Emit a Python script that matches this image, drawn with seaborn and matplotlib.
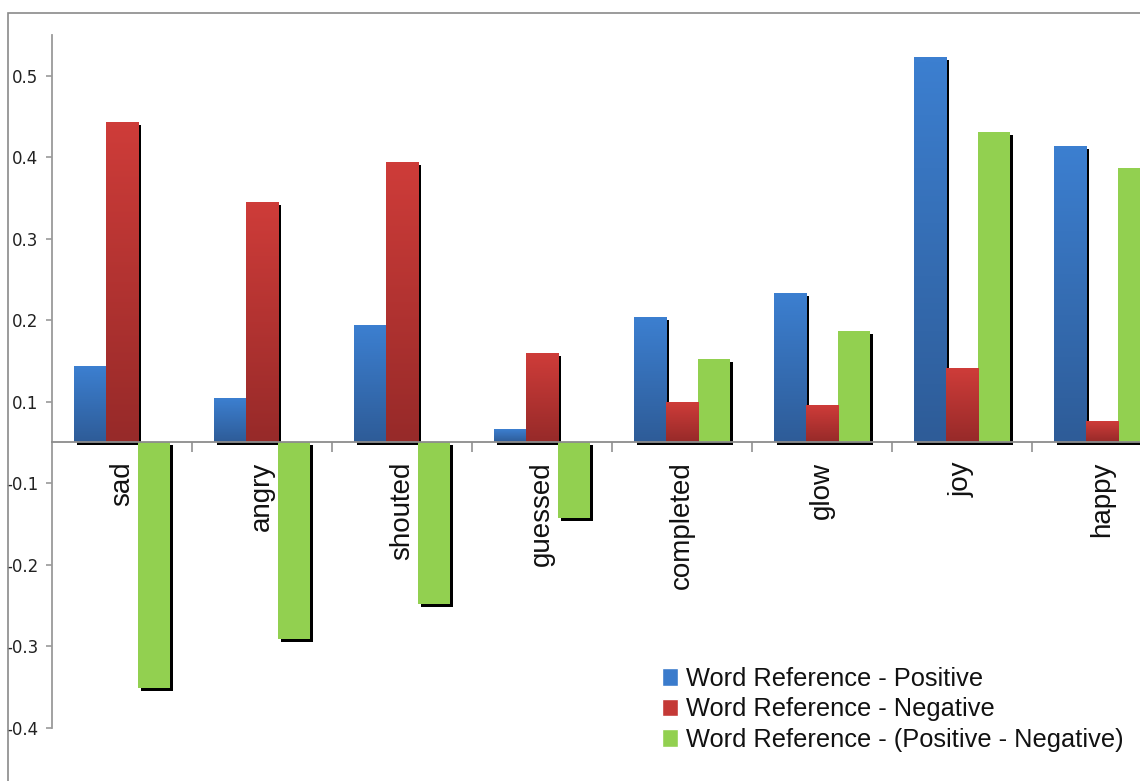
import numpy as np
import pandas as pd
import matplotlib
matplotlib.use("Agg")
import matplotlib.pyplot as plt
import matplotlib.patheffects as pe
from matplotlib.colors import LinearSegmentedColormap
from matplotlib.patches import Rectangle
import seaborn as sns

# ---- data ----
words = ["sad", "angry", "shouted", "guessed", "completed", "glow", "joy", "happy"]
series = ["Word Reference - Positive", "Word Reference - Negative",
          "Word Reference - (Positive - Negative)"]
positive = [0.093, 0.053, 0.143, 0.015, 0.153, 0.182, 0.472, 0.363]
negative = [0.392, 0.294, 0.343, 0.109, 0.049, 0.045, 0.090, 0.025]
difference = [-0.302, -0.242, -0.199, -0.094, 0.101, 0.136, 0.380, 0.336]
tick_labels = ["-0.4", "-0.3", "-0.2", "-0.1", "0.1", "0.2", "0.3", "0.4", "0.5"]

colors = ["#3A7BCC", "#C43936", "#92D050"]
grad_colors = [("#2E5C98", "#3C7FD0"), ("#972A29", "#CE3C39")]

df = pd.DataFrame({
    "word": words * 3,
    "series": [s for s in series for _ in words],
    "value": positive + negative + difference,
})

sns.set_theme(style="white")
plt.rcParams["font.family"] = ["Liberation Sans", "DejaVu Sans"]

fig = plt.figure(figsize=(11.4, 7.81), dpi=100)
ax = fig.add_axes([52 / 1140, 53 / 781, 1120 / 1140, 693 / 781])

sns.barplot(data=df, x="word", y="value", hue="series", palette=colors,
            width=0.686, saturation=1, errorbar=None, ax=ax, legend=True)

ylim = (-0.3515, 0.4988)

# shadows and gradients
for ci, cont in enumerate(ax.containers):
    for patch in cont.patches:
        patch.set_linewidth(0)
        patch.set_path_effects([
            pe.SimplePatchShadow(offset=(2.3, -2.3), shadow_rgbFace="black", alpha=1.0),
            pe.Normal()])
        if ci < 2:
            x0 = patch.get_x()
            x1 = x0 + patch.get_width()
            h = patch.get_height()
            cmap = LinearSegmentedColormap.from_list("g", list(grad_colors[ci]))
            grad = np.linspace(0, 1, 64).reshape(-1, 1)
            im = ax.imshow(grad, extent=(x0, x1, 0, h), origin="lower",
                           aspect="auto", cmap=cmap, zorder=1.5,
                           interpolation="bilinear")
            im.set_clip_path(patch)

ax.set_xlim(-0.5, 7.5)
ax.set_ylim(*ylim)
ax.set_aspect("auto")

# y axis ticks (labels as printed in the reference)
ytick_pos = ylim[0] + 0.1 * np.arange(len(tick_labels))
ax.set_yticks(ytick_pos)
ax.set_yticklabels(tick_labels, fontfamily="DejaVu Sans", fontsize=12, color="#222222")
ax.tick_params(axis="y", direction="out", length=4, width=1.2, color="#999999",
               pad=6.0, left=True)

# x axis at zero
for s in ["top", "right"]:
    ax.spines[s].set_visible(False)
ax.spines["bottom"].set_position(("data", 0))
ax.spines["bottom"].set_color("#8C8C8C")
ax.spines["bottom"].set_linewidth(1.3)
ax.spines["left"].set_color("#9A9A9A")
ax.spines["left"].set_linewidth(1.3)

ax.set_xticks(range(len(words)))
ax.set_xticklabels(words, rotation=90, fontsize=20, fontfamily="Liberation Sans",
                   color="#111111")
ax.tick_params(axis="x", length=0, pad=14.5, bottom=True)
ax.set_xticks(np.arange(0.5, len(words) - 0.5 + 1e-9, 1.0), minor=True)
ax.tick_params(axis="x", which="minor", direction="out", length=7.5, width=1.3,
               color="#9A9A9A", bottom=True)
ax.set_xlabel("")
ax.set_ylabel("")
ax.grid(False)

# legend
handles, labels = ax.get_legend_handles_labels()
leg = ax.legend(handles, labels, loc="upper left",
                bbox_to_anchor=(662 / 1140, 1 - 667 / 781),
                bbox_transform=fig.transFigure, frameon=False,
                prop={"family": "Liberation Sans", "size": 18.3},
                handlelength=0.62, handleheight=0.7, handletextpad=0.33,
                labelspacing=0.25, borderpad=0, borderaxespad=0)
for t in leg.get_texts():
    t.set_color("#111111")

# outer chart frame
fig.patches.append(Rectangle((8 / 1140, -0.1), 1.2, 1.1 - 13 / 781,
                             transform=fig.transFigure, fill=False,
                             edgecolor="#8A8A8A", linewidth=1.2))

fig.savefig("out.png", dpi=100)
